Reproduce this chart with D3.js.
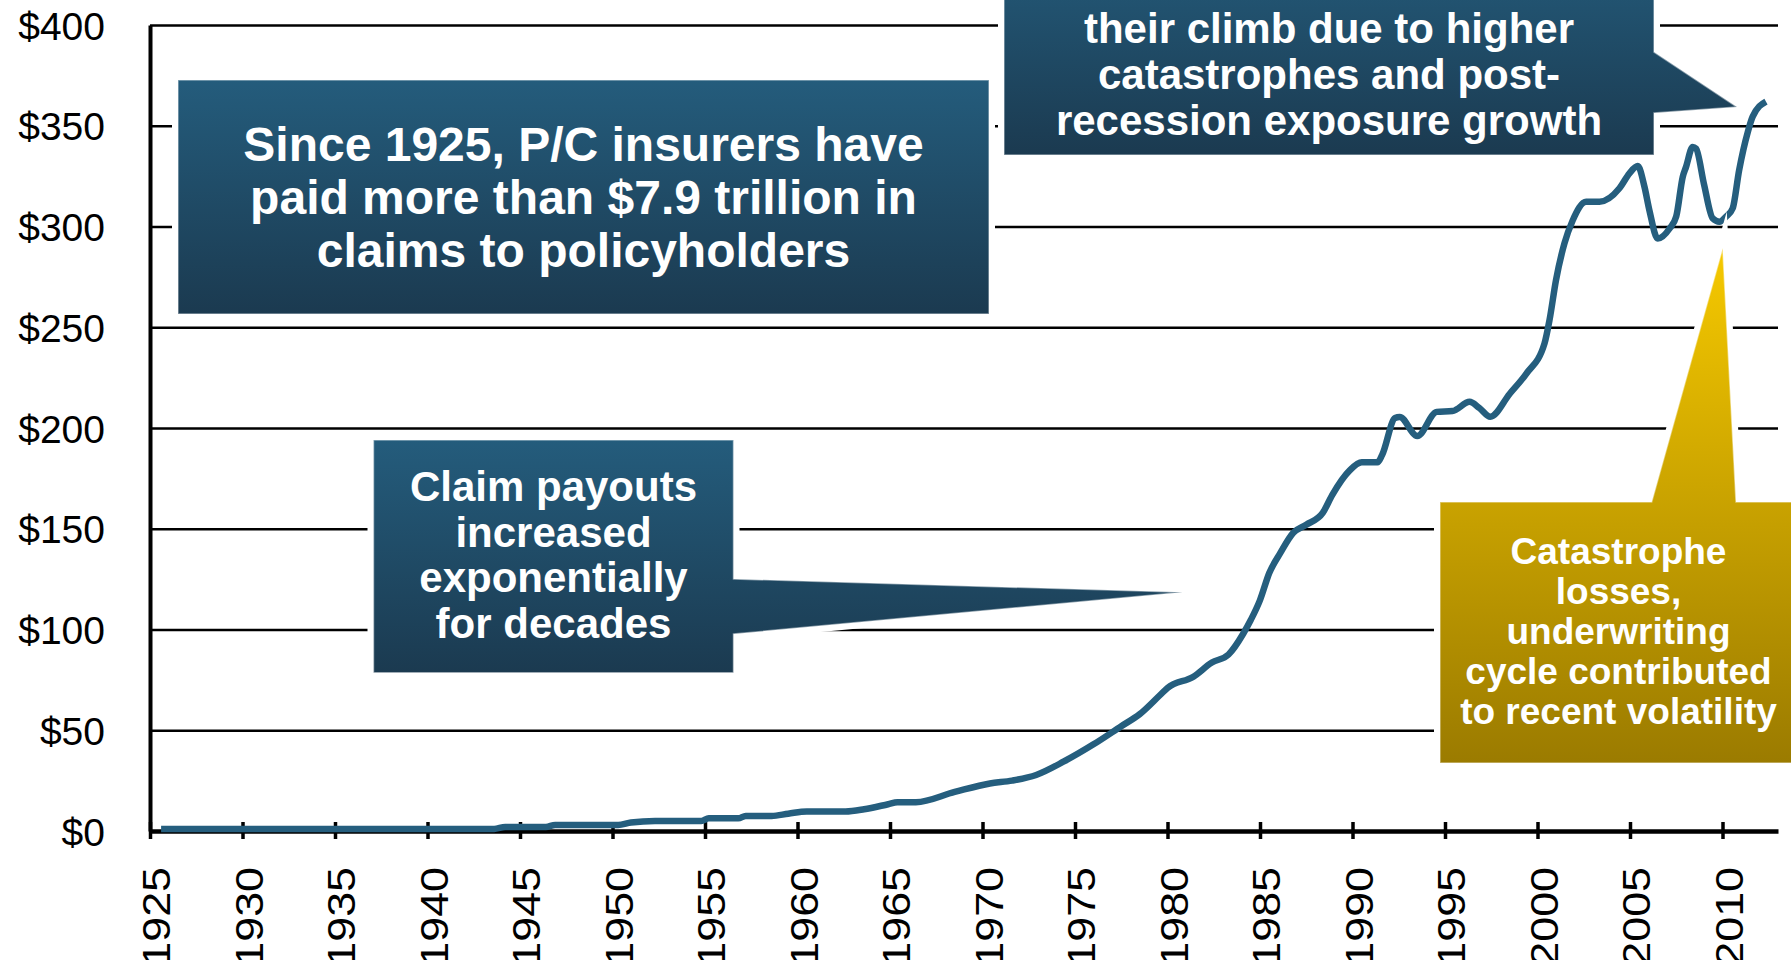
<!DOCTYPE html>
<html>
<head>
<meta charset="utf-8">
<script src="https://cdn.jsdelivr.net/npm/d3@7.9.0/dist/d3.min.js"></script>
<style>
  html, body { margin: 0; padding: 0; background: #fff; overflow: hidden; }
  svg { display: block; font-family: "Liberation Sans", Arial, Helvetica, sans-serif; }
</style>
</head>
<body>
<svg id="chart" width="1791" height="960"></svg>
<script>
// claims paid, $ billions (time in fractional years)
const claimTimes = [
  1925.6, 1943.6, 1944.2, 1946.4, 1946.9, 1950.3, 1951.0, 1952.3, 1954.8, 1955.2,
  1956.8, 1957.2, 1958.6, 1959.5, 1960.5, 1962.6, 1963.6, 1964.9, 1965.4, 1966.4,
  1968.5, 1970.4, 1971.6, 1972.9, 1974.4, 1976.0, 1977.5, 1978.5, 1979.6, 1980.0,
  1981.4, 1982.4, 1983.3, 1984.1, 1984.5, 1985.0, 1985.5, 1986.1, 1986.8, 1987.5,
  1988.4, 1988.9, 1989.85, 1990.5, 1991.35, 1991.6, 1992.3, 1992.55, 1993.5, 1994.55,
  1995.4, 1996.33, 1996.85, 1997.45, 1998.5, 1999.4, 2000.38, 2000.65, 2001.0, 2001.46,
  2001.9, 2002.63, 2003.35, 2004.43, 2004.97, 2005.42, 2005.78, 2006.05, 2006.5, 2007.14,
  2007.5, 2007.85, 2008.03, 2008.39, 2008.57, 2009.0, 2009.47, 2009.83, 2010.2, 2010.55,
  2010.9, 2011.37, 2011.63, 2012.35
];
const claimValues = [
  1, 1, 2, 2, 3, 3, 4.2, 5, 5, 6.3,
  6.3, 7.5, 7.5, 8.6, 9.7, 9.7, 10.8, 13.3, 14.3, 14.3,
  19.4, 23.6, 25, 27.8, 34.5, 43, 52, 58, 67.5, 71,
  76.6, 83.6, 87.6, 98, 104.7, 114.6, 128, 138, 148, 152,
  158, 166.7, 179, 183, 183, 186.6, 205, 205.5, 196, 208,
  208.4, 213, 210, 205.6, 217, 227, 242, 253.6, 273.4, 291.7,
  303, 312.3, 312.3, 319, 326.4, 330, 319.8, 308, 294, 299,
  305, 324.6, 329.6, 339.5, 338.7, 321, 304, 302.4, 305, 309,
  328, 347, 354.5, 362
];

const yearTicks = [1925, 1930, 1935, 1940, 1945, 1950, 1955, 1960, 1965, 1970,
                   1975, 1980, 1985, 1990, 1995, 2000, 2005, 2010];
const valueTicks = [0, 50, 100, 150, 200, 250, 300, 350, 400];

const mainNote = ["Since 1925, P/C insurers have", "paid more than $7.9 trillion in", "claims to policyholders"];
const growthNote = ["Claim payouts", "increased", "exponentially", "for decades"];
const recentNote = ["their climb due to higher", "catastrophes and post-", "recession exposure growth"];
const catNote = ["Catastrophe", "losses,", "underwriting", "cycle contributed", "to recent volatility"];

const svg = d3.select('#chart');
const plotLeft = 150, plotRight = 1778, plotTop = 25, plotBottom = 831;

const x = d3.scaleLinear().domain([1925, 2013]).range([plotLeft, plotRight]);
const y = d3.scaleLinear().domain([0, 400]).range([plotBottom, plotTop]);

// gradients
const defs = svg.append('defs');
function vGrad(id, c1, c2) {
    const g = defs.append('linearGradient').attr('id', id)
        .attr('x1', 0).attr('y1', 0).attr('x2', 0).attr('y2', 1);
    g.append('stop').attr('offset', '0%').attr('stop-color', c1);
    g.append('stop').attr('offset', '100%').attr('stop-color', c2);
}
vGrad('blueGrad', '#245c7c', '#1b3a50');
vGrad('goldGrad', '#f6c900', '#9b7b00');

// gridlines
svg.append('g')
    .attr('transform', `translate(${plotLeft},0)`)
    .call(d3.axisLeft(y).tickValues(valueTicks.slice(1)).tickSize(-(plotRight - plotLeft)).tickFormat(''))
    .call(g => g.select('.domain').remove())
    .call(g => g.selectAll('line').attr('stroke', '#000').attr('stroke-width', 2.3));

// y axis
svg.append('g')
    .attr('transform', `translate(${plotLeft},0)`)
    .call(d3.axisLeft(y).tickValues(valueTicks).tickSize(0).tickPadding(45).tickFormat(d => '$' + d))
    .call(g => g.select('.domain').attr('stroke', '#000').attr('stroke-width', 4))
    .call(g => g.selectAll('text')
        .attr('dy', '0.36em')
        .attr('font-size', 39)
        .attr('font-family', '"Liberation Sans", Arial, sans-serif')
        .attr('fill', '#000'));

// x axis (labels are a little stretched along their length in the original)
const stretch = 1.15;
svg.append('g')
    .attr('transform', `translate(0,${plotBottom})`)
    .call(d3.axisBottom(x).tickValues(yearTicks).tickSizeInner(8).tickSizeOuter(0).tickFormat(d => d))
    .call(g => g.select('.domain').attr('stroke', '#000').attr('stroke-width', 4.3))
    .call(g => g.selectAll('.tick line').attr('y1', -9).attr('stroke', '#000').attr('stroke-width', 3.5))
    .call(g => g.selectAll('text')
        .attr('transform', `rotate(-90) scale(${stretch},1)`)
        .attr('x', -36 / stretch)
        .attr('y', 19.6)
        .attr('dy', 0)
        .attr('text-anchor', 'end')
        .attr('font-size', 39)
        .attr('font-family', '"Liberation Sans", Arial, sans-serif')
        .attr('fill', '#000'));

// callout helper
function callout(points, grad, miter) {
    const d = 'M' + points.map(p => p.join(',')).join('L') + 'Z';
    svg.append('path').attr('d', d)
        .attr('fill', '#fff').attr('stroke', '#fff').attr('stroke-width', 12)
        .attr('stroke-linejoin', 'miter').attr('stroke-miterlimit', miter);
    svg.append('path').attr('d', d)
        .attr('fill', `url(#${grad})`)
        .attr('stroke', 'rgba(255,255,255,0.45)').attr('stroke-width', 1.5);
}
function noteText(lines, cx, firstCap, step, size) {
    svg.append('g').selectAll('text').data(lines).join('text')
        .attr('x', cx)
        .attr('y', (d, i) => firstCap + i * step + 0.358 * size)
        .attr('text-anchor', 'middle')
        .attr('font-size', size)
        .attr('font-weight', 'bold')
        .attr('fill', '#fff')
        .text(d => d);
}

// blue notes
callout([[178, 80], [989, 80], [989, 314], [178, 314]], 'blueGrad', 4);
noteText(mainNote, 583.5, 144, 53, 48);

callout([[373.5, 440], [733.5, 440], [733.5, 579], [1182.6, 592.3], [733.5, 634], [733.5, 672.7], [373.5, 672.7]], 'blueGrad', 4);
noteText(growthNote, 553.5, 486, 45.5, 42);

callout([[1004, -60], [1654, -60], [1654, 52], [1737, 107], [1654, 113], [1654, 155], [1004, 155]], 'blueGrad', 4);
noteText(recentNote, 1329, 28, 46, 42);

// claims line
const pts = claimTimes.map((t, i) => [t, claimValues[i]]);
svg.append('path')
    .datum(pts)
    .attr('fill', 'none')
    .attr('stroke', '#255e7e')
    .attr('stroke-width', 6.5)
    .attr('stroke-linejoin', 'round')
    .attr('d', d3.line().x(d => x(d[0])).y(d => y(d[1])).curve(d3.curveMonotoneX));

// gold note
callout([[1440, 502], [1651.7, 502], [1722.7, 248.3], [1736, 502], [1805, 502], [1805, 763], [1440, 763]], 'goldGrad', 10);
noteText(catNote, 1618.5, 551, 40, 37);
</script>
</body>
</html>
